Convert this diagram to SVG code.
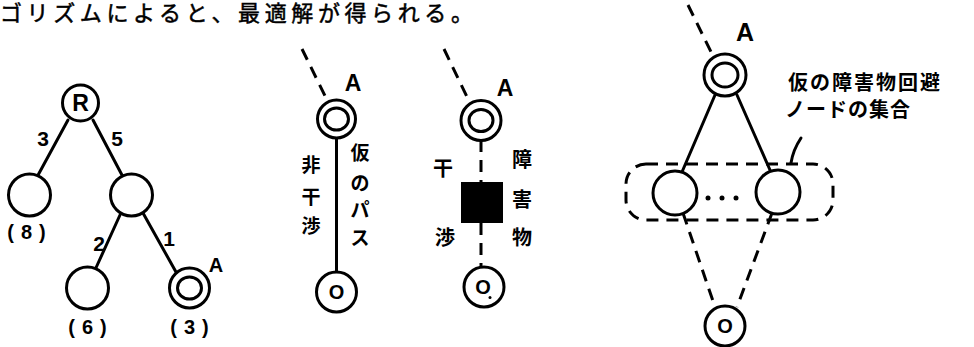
<svg xmlns="http://www.w3.org/2000/svg" width="974" height="347" viewBox="0 0 974 347">
<style>
.ln{stroke:#000;stroke-width:3;fill:none;stroke-linecap:round}
.ds{stroke:#000;stroke-width:3;fill:none;stroke-dasharray:12 8}
.nd{stroke:#000;stroke-width:3;fill:#fff}
.lat{font-family:"Liberation Sans",Arial,sans-serif;font-weight:bold;fill:#000;text-anchor:middle}
.cjk{font-family:"Noto Sans CJK JP",sans-serif;font-weight:bold;fill:#000;text-anchor:middle}
.hd{font-family:"Liberation Serif","Noto Sans CJK JP",serif;font-size:22px;fill:#000;stroke:#000;stroke-width:0.5}
</style>
<rect width="974" height="347" fill="#fff"/>
<text class="hd" x="0" y="21" textLength="473" lengthAdjust="spacing">ゴリズムによると、最適解が得られる。</text>

<g id="connectors">
<line class="ln" x1="68" y1="120" x2="37" y2="177"/>
<line class="ln" x1="93" y1="120" x2="123" y2="177"/>
<line class="ln" x1="120" y1="215" x2="95" y2="270"/>
<line class="ln" x1="143" y1="213" x2="176" y2="272"/>
<path class="ds" d="M302,49 L327,100" stroke-dasharray="22 10"/>
<line class="ln" x1="336.5" y1="138" x2="336.5" y2="272"/>
<path class="ds" d="M444,49 L469,101" stroke-dasharray="23 9"/>
<path class="ds" d="M481,140 V182" stroke-dasharray="12 8"/>
<path class="ds" d="M481,223 V267" stroke-dasharray="12 8"/>
<path class="ds" d="M688,5 L713,56" stroke-dasharray="23 8"/>
<line class="ln" x1="715" y1="95" x2="682" y2="172"/>
<line class="ln" x1="737" y1="95" x2="770" y2="170"/>
<path class="ds" d="M683,213 L715,307"/>
<path class="ds" d="M772,213 L737,307"/>
<path class="ln" d="M801,138 Q793,150 791,163"/>
</g>

<g id="R"><circle class="nd" cx="80.5" cy="103" r="18"/><text class="lat" x="80.5" y="111" font-size="23">R</text></g>
<g id="n8"><circle class="nd" cx="29.5" cy="195" r="21"/><text class="lat" x="30" y="239" font-size="20" letter-spacing="7">(8)</text></g>
<g id="n5"><circle class="nd" cx="131.5" cy="195" r="21"/></g>
<g id="n6"><circle class="nd" cx="87.5" cy="288" r="21"/><text class="lat" x="91" y="334" font-size="20" letter-spacing="7">(6)</text></g>
<g id="nA"><circle class="nd" cx="189.5" cy="288" r="20"/><ellipse class="nd" cx="189.5" cy="288" rx="12" ry="11"/><text class="lat" x="216" y="272" font-size="20">A</text><text class="lat" x="193" y="334" font-size="20" letter-spacing="7">(3)</text></g>
<g id="edge-labels">
<text class="lat" x="43" y="146" font-size="21">3</text>
<text class="lat" x="117" y="146" font-size="21">5</text>
<text class="lat" x="99" y="251" font-size="21">2</text>
<text class="lat" x="169" y="246" font-size="21">1</text>
</g>

<g id="m1A"><circle class="nd" cx="336.5" cy="119" r="19"/><ellipse class="nd" cx="336.5" cy="119" rx="12" ry="11"/><text class="lat" x="353" y="91" font-size="23">A</text></g>
<g id="m1O"><circle class="nd" cx="336.5" cy="292" r="20"/><text class="lat" x="336.5" y="299" font-size="20">O</text></g>
<text class="cjk" font-size="19"><tspan x="311" y="172">非</tspan><tspan x="311" y="204">干</tspan><tspan x="311" y="233">渉</tspan></text>
<text class="cjk" font-size="19"><tspan x="360" y="160">仮</tspan><tspan x="360" y="190">の</tspan><tspan x="360" y="217">パ</tspan><tspan x="360" y="245">ス</tspan></text>

<g id="m2A"><circle class="nd" cx="481" cy="120.5" r="20"/><ellipse class="nd" cx="481" cy="120.5" rx="12" ry="11"/><text class="lat" x="505" y="96" font-size="23">A</text></g>
<g id="obstacle"><rect x="461" y="182" width="42" height="41" fill="#000"/></g>
<g id="m2O"><circle class="nd" cx="484" cy="287" r="20"/><text class="lat" x="483" y="294" font-size="20">O</text><circle cx="490" cy="297.5" r="1.5" fill="#000"/></g>
<text class="cjk" font-size="20"><tspan x="443" y="176">干</tspan><tspan x="445" y="245">渉</tspan></text>
<text class="cjk" font-size="20"><tspan x="522" y="167">障</tspan><tspan x="522" y="207">害</tspan><tspan x="522" y="245">物</tspan></text>

<g id="rA"><circle class="nd" cx="725" cy="75" r="21"/><ellipse class="nd" cx="725" cy="75" rx="13" ry="12"/><text class="lat" x="745" y="41" font-size="25">A</text></g>
<g id="group"><rect class="ds" x="626" y="164" width="207" height="56" rx="20" stroke-dasharray="12 7"/></g>
<g id="rL"><circle class="nd" cx="675" cy="193" r="22"/></g>
<g id="rR"><circle class="nd" cx="778" cy="192" r="22"/></g>
<g id="dots"><circle cx="708" cy="198" r="2.5"/><circle cx="722" cy="198" r="2.5"/><circle cx="736" cy="198" r="2.5"/></g>
<g id="rO"><circle class="nd" cx="725" cy="326" r="20"/><text class="lat" x="725" y="333" font-size="20">O</text></g>
<g id="label">
<text class="cjk" font-size="20" x="788" y="90" style="text-anchor:start" letter-spacing="2">仮の障害物回避</text>
<text class="cjk" font-size="20" x="785" y="117" style="text-anchor:start" letter-spacing="1">ノードの集合</text>
</g>
</svg>
